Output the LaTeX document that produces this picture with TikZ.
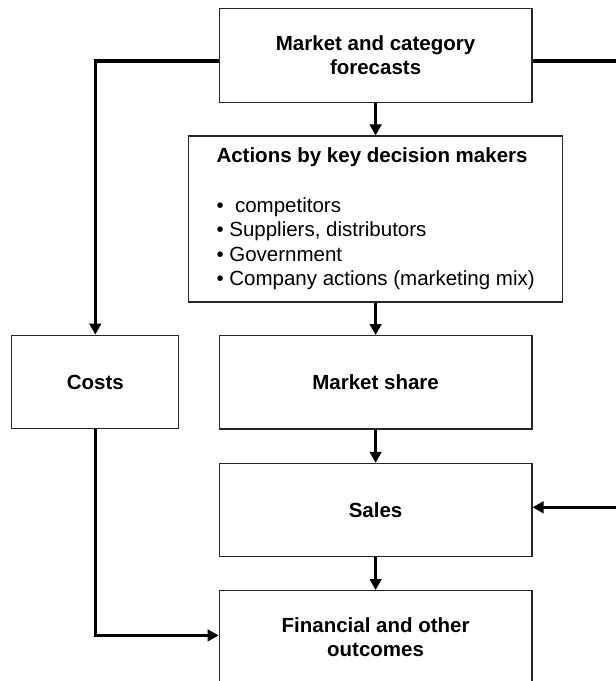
\documentclass[tikz,border=0pt]{standalone}
\usepackage{fontspec}
\setmainfont{Liberation Sans}
\usetikzlibrary{arrows.meta}
\begin{document}
\begin{tikzpicture}[x=1pt,y=-1pt,
  box/.style={draw=black!85, line width=1.1pt, rectangle, inner sep=0pt, align=center,
    font=\fontsize{20.5}{24.5}\selectfont\bfseries},
  midbox/.style={box, minimum width=312.8pt, minimum height=93.4pt},
  conn/.style={line width=3.2pt, -{Triangle[length=11pt,width=11.5pt]}}]
\useasboundingbox (0,0) rectangle (616,681);
\clip (0,0) rectangle (616,681);
\node[midbox] (top) at (375.6,55.4) {Market and category\\forecasts};
\node[box, minimum width=374pt, minimum height=166pt, align=left,
  font=\fontsize{20.5}{24.6}\selectfont] (actions) at (375.6,219)
  {\textbf{Actions by key decision makers}\\[24.6pt]%
   •\ \ competitors\\%
   • Suppliers, distributors\\%
   • Government\\%
   • Company actions (marketing mix)};
\node[box, minimum width=167pt, minimum height=93.6pt] (costs) at (95.3,382) {Costs};
\node[midbox] (share) at (375.6,382.3) {Market share};
\node[midbox] (sales) at (375.6,510.1) {Sales};
\node[midbox] (fin) at (375.6,637.3) {Financial and other\\outcomes};
\coordinate (L1) at (95.3,61);
\coordinate (R1) at (619,61);
\coordinate (R2) at (619,507.3);
\coordinate (B1) at (95.3,635.4);
\draw[conn] (top.south) -- (actions.north);
\draw[conn] (actions.south) -- (share.north);
\draw[conn] (share.south) -- (sales.north);
\draw[conn] (sales.south) -- (fin.north);
\draw[conn] (top.west |- L1) -- (L1) -- (costs.north);
\draw[conn] (top.east |- R1) -- (R1) -- (R2) -- (sales.east |- R2);
\draw[conn] (costs.south) -- (costs.south |- B1) -- (fin.west |- B1);
\end{tikzpicture}
\end{document}
